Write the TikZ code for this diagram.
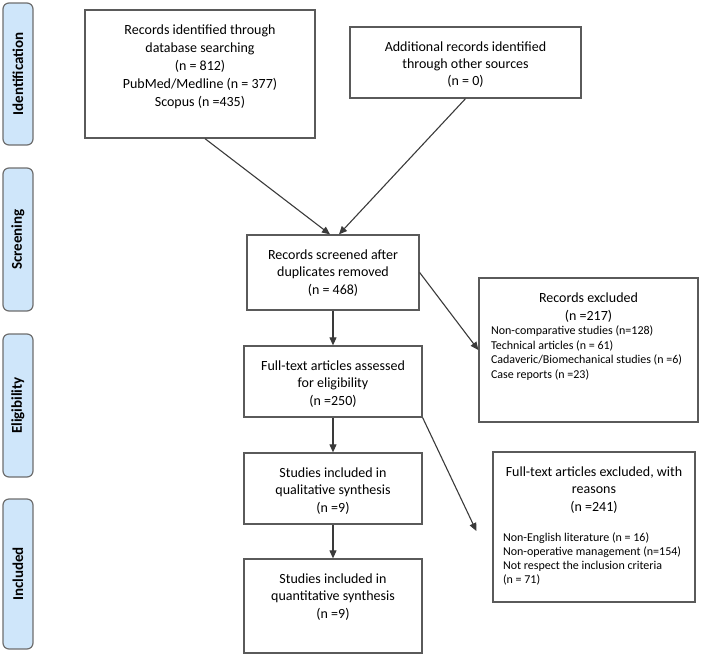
\documentclass[tikz,border=0pt]{standalone}
\usepackage{fontspec}
\setmainfont{Carlito}
\usetikzlibrary{arrows.meta,positioning,calc}
\definecolor{stagefill}{HTML}{CFE6FA}
\definecolor{stageline}{HTML}{6E6E6E}
\definecolor{boxline}{HTML}{5A5A5A}
\definecolor{arrowcol}{HTML}{3A3A3A}

%% fixed-size box, text hung from the top (first baseline 24pt down)
\newcommand{\boxtext}[3]{\parbox[c][#2][t]{#1}{\centering\rule{0pt}{24pt}#3}}

\begin{document}
\begin{tikzpicture}[x=1pt, y=-1pt,
  stage/.style={draw=stageline, fill=stagefill, line width=1.2pt,
    rounded corners=6pt, rotate=90, minimum height=30pt, inner sep=0pt,
    font=\fontsize{15}{18}\selectfont\bfseries},
  box/.style={draw=boxline, line width=1.3pt, inner sep=0pt,
    font=\fontsize{14}{18}\selectfont},
  link/.style={-{Triangle[length=8pt,width=7pt]}, line width=1.1pt, arrowcol}]
  \useasboundingbox (0,0) rectangle (702,657);

  %% Stage bars on the left
  \node[stage, minimum width=142pt] (identification) at (18,74)    {Identification};
  \node[stage, minimum width=143pt] (screening)      at (18,239.5) {Screening};
  \node[stage, minimum width=143pt] (eligibility)    at (18,405.5) {Eligibility};
  \node[stage, minimum width=150pt] (included)       at (18,574)   {Included};

  %% Identification
  \node[box] (database) at (200,74) {\boxtext{230pt}{128pt}{Records identified through\\
    database searching\\(n = 812)\\PubMed/Medline (n = 377)\\Scopus (n =435)}};
  \node[box, font=\fontsize{14}{17}\selectfont] (other) at (465.5,62.5)
    {\boxtext{231pt}{71pt}{Additional records identified\\through other sources\\(n = 0)}};

  %% Screening
  \node[box, font=\fontsize{14}{17.5}\selectfont] (screened) at (333,272.5)
    {\boxtext{172pt}{75pt}{Records screened after\\duplicates removed\\(n = 468)}};
  \node[box] (excluded) at (588.5,350) {\boxtext{219pt}{144pt}{Records excluded\\(n =217)\par
    \fontsize{12}{14.5}\selectfont\raggedright\leftskip=12pt
    Non-comparative studies (n=128)\\Technical articles (n = 61)\\
    Cadaveric/Biomechanical studies (n =6)\\Case reports (n =23)\par}};

  %% Eligibility
  \node[box, font=\fontsize{14}{17.5}\selectfont] (assessed) at (333,381.5)
    {\boxtext{178pt}{71pt}{Full-text articles assessed\\for eligibility\\(n =250)}};
  \node[box, font=\fontsize{14}{17.5}\selectfont] (reasons) at (594,527)
    {\boxtext{202pt}{150pt}{Full-text articles excluded, with\\reasons\\(n =241)\par
    \vspace{16pt}\fontsize{12}{14}\selectfont\raggedright\leftskip=10pt
    Non-English literature (n = 16)\\Non-operative management (n=154)\\
    Not respect the inclusion criteria\\(n = 71)\par}};

  %% Included
  \node[box, font=\fontsize{14}{17.5}\selectfont] (qualitative) at (333,488.5)
    {\boxtext{178pt}{71pt}{Studies included in\\qualitative synthesis\\(n =9)}};
  \node[box, font=\fontsize{14}{17.5}\selectfont] (quantitative) at (333,606)
    {\boxtext{178pt}{94pt}{Studies included in\\quantitative synthesis\\(n =9)}};

  %% Connectors
  \draw[link] ([xshift=5pt]database.south) -- ([xshift=-3pt]screened.north);
  \draw[link] (other.south) -- ([xshift=6pt]screened.north);
  \draw[link] (screened.south) -- (assessed.north);
  \draw[link] (screened.east) -- (excluded.west);
  \draw[link] (assessed.south) -- (qualitative.north);
  \draw[link] (assessed.south east) -- ([xshift=-16pt,yshift=-4pt]reasons.west);
  \draw[link] (qualitative.south) -- (quantitative.north);
\end{tikzpicture}
\end{document}
